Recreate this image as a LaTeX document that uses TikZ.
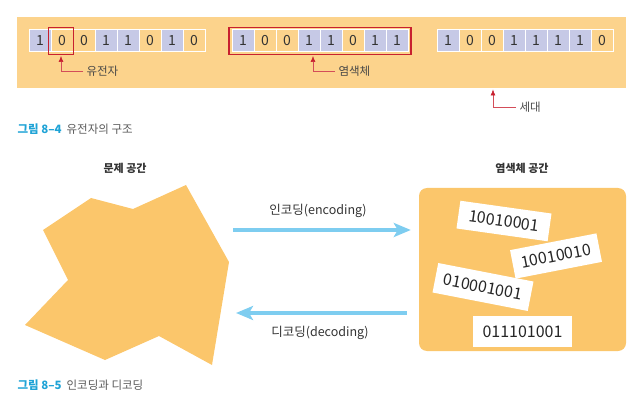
\documentclass[tikz,border=0pt]{standalone}
\usepackage{fontspec}
\setmainfont{Noto Sans CJK KR}
\usetikzlibrary{arrows.meta}
\definecolor{band}{HTML}{FCD38C}
\definecolor{blob}{HTML}{FBC66B}
\definecolor{lav}{HTML}{C6C9E6}
\definecolor{redc}{HTML}{C8202F}
\definecolor{bluec}{HTML}{7ECDF0}
\definecolor{capc}{HTML}{1FA3D6}
\definecolor{txt}{HTML}{333333}
\tikzset{
  cellbase/.style={draw=white, line width=1pt, minimum width=22pt, minimum height=22pt, inner sep=0pt, font=\fontsize{14}{16}\selectfont, text=txt},
  one/.style={cellbase, fill=lav},
  zero/.style={cellbase, fill=band},
  redbox/.style={draw=redc, line width=1.4pt},
  redarrow/.style={draw=redc!80!white, line width=0.6pt, -{Latex[length=6pt,width=5pt,color=redc]}},
  lbl/.style={anchor=west, font=\fontsize{11.5}{13}\selectfont, text=txt!90},
  bluearrow/.style={draw=bluec, line width=3.8pt, -{Stealth[length=17pt,width=14pt,inset=4pt]}},
  chip/.style={fill=white, inner sep=0pt, font=\fontsize{16}{18}\selectfont, text=black!85},
  title/.style={font=\fontsize{11}{13}\selectfont\bfseries, text=txt},
  arrlbl/.style={font=\fontsize{12.5}{14}\selectfont, text=txt},
  caption/.style={anchor=west, font=\fontsize{11.5}{13}\selectfont, text=black!65},
}
\begin{document}
\begin{tikzpicture}[x=1pt,y=-1pt]
\useasboundingbox (0,0) rectangle (637,406);
% ---------- Figure 8-4 ----------
\fill[band] (17,17) rectangle (626,88);
\foreach \v [count=\i] in {1,0,0,1,1,0,1,0} {
  \ifnum\v=1 \node[one] (a\i) at (29+22*\i-11,41) {\v}; \else \node[zero] (a\i) at (29+22*\i-11,41) {\v}; \fi
}
\foreach \v [count=\i] in {1,0,0,1,1,0,1,1} {
  \ifnum\v=1 \node[one] (b\i) at (232+22*\i-11,41) {\v}; \else \node[zero] (b\i) at (232+22*\i-11,41) {\v}; \fi
}
\foreach \v [count=\i] in {1,0,0,1,1,1,1,0} {
  \ifnum\v=1 \node[one] (c\i) at (437+22*\i-11,41) {\v}; \else \node[zero] (c\i) at (437+22*\i-11,41) {\v}; \fi
}
\draw[redbox] (48.5,27.5) rectangle (73.5,54.5);
\draw[redbox] (229,27.5) rectangle (411,54.5);
% labels
\node[lbl] (gene) at (83,71) {유전자};
\node[lbl] (chrom) at (335,71) {염색체};
\node[lbl] (gen) at (516,107) {세대};
\coordinate (tipA) at (61,56);
\coordinate (tipB) at (313,56);
\coordinate (tipC) at (493,89.5);
\draw[redarrow] (gene.west) -| (tipA);
\draw[redarrow] (chrom.west) -| (tipB);
\draw[redarrow] (gen.west) -| (tipC);
\node[caption] (cap1) at (14,129) {\textcolor{capc}{\bfseries 그림 8–4}\hspace{5pt}유전자의 구조};
% ---------- Figure 8-5 ----------
\node[title] (ps) at (125,168) {문제 공간};
\fill[blob] (43,230) -- (91,198) -- (133,209) -- (186,185) -- (229,262) -- (212,365) -- (159,336) -- (105,360) -- (25,325) -- (68,280) -- cycle;
\coordinate (blobR) at (233,230);
\coordinate (blobR2) at (236,313);
\node[title] (cs) at (522,168) {염색체 공간};
\node[fill=blob, rounded corners=8pt, minimum width=207pt, minimum height=163pt, inner sep=0pt] (space) at (522.5,269.5) {};
\coordinate (encE) at ([xshift=-8pt]space.west |- blobR);
\coordinate (decS) at ([xshift=-12pt]space.west |- blobR2);
\draw[bluearrow] (blobR) -- (encE);
\draw[bluearrow] (decS) -- (blobR2);
\node[arrlbl] (enc) at (318,211) {인코딩(encoding)};
\node[arrlbl] (dec) at (320,333) {디코딩(decoding)};
\node[chip, rotate=-8, minimum width=92pt, minimum height=28pt] (s1) at (504,221) {10010001};
\node[chip, rotate=11, minimum width=88pt, minimum height=29pt] (s2) at (556,256) {10010010};
\node[chip, rotate=-11, minimum width=97pt, minimum height=30pt] (s3) at (483,287) {010001001};
\node[chip, minimum width=99pt, minimum height=31pt] (s4) at (522.5,331.5) {011101001};
\node[caption] (cap2) at (14,385) {\textcolor{capc}{\bfseries 그림 8–5}\hspace{5pt}인코딩과 디코딩};
\end{tikzpicture}
\end{document}
